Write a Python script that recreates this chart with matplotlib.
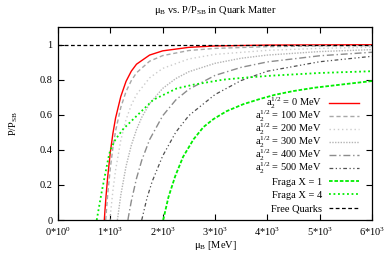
import matplotlib
matplotlib.use("Agg")
import matplotlib.pyplot as plt
from matplotlib.lines import Line2D

plt.rcParams['font.family'] = ['Liberation Serif', 'DejaVu Serif']
plt.rcParams['mathtext.fontset'] = 'custom'
plt.rcParams['mathtext.rm'] = 'Liberation Serif'
plt.rcParams['mathtext.it'] = 'Liberation Serif:italic'
plt.rcParams['font.size'] = 7.5

# mu_B in MeV, P/P_SB values
mu_red = [885, 900, 920, 950, 1000, 1050, 1100, 1200, 1300, 1400, 1500, 1750, 2000, 2500, 3000, 4000, 5000, 6000]
y_red = [0.0, 0.065, 0.144, 0.247, 0.387, 0.495, 0.581, 0.704, 0.790, 0.848, 0.888, 0.940, 0.964, 0.984, 0.992, 0.997, 0.998, 0.999]

mu_a100 = [911, 950, 1000, 1050, 1100, 1200, 1300, 1400, 1500, 1750, 2000, 2500, 3000, 4000, 5000, 6000]
y_a100 = [0.0, 0.147, 0.297, 0.414, 0.507, 0.642, 0.732, 0.794, 0.839, 0.905, 0.937, 0.966, 0.978, 0.988, 0.992, 0.994]

mu_a200 = [992, 1000, 1050, 1100, 1200, 1300, 1400, 1500, 1750, 2000, 2500, 3000, 4000, 5000, 6000]
y_a200 = [0.0, 0.027, 0.169, 0.284, 0.454, 0.572, 0.655, 0.715, 0.810, 0.864, 0.918, 0.944, 0.967, 0.978, 0.985]

mu_a300 = [1135, 1200, 1300, 1400, 1500, 1600, 1750, 2000, 2250, 2500, 3000, 3500, 4000, 5000, 6000]
y_a300 = [0.0, 0.142, 0.306, 0.425, 0.515, 0.585, 0.663, 0.750, 0.806, 0.845, 0.893, 0.922, 0.940, 0.960, 0.971]

mu_a400 = [1336, 1350, 1400, 1500, 1600, 1750, 2000, 2250, 2500, 3000, 3500, 4000, 5000, 6000]
y_a400 = [0.0, 0.025, 0.106, 0.237, 0.340, 0.458, 0.594, 0.684, 0.745, 0.824, 0.870, 0.901, 0.936, 0.956]

mu_a500 = [1600, 1700, 1800, 2000, 2250, 2500, 3000, 3500, 4000, 5000, 6000]
y_a500 = [0.0, 0.125, 0.220, 0.365, 0.500, 0.595, 0.715, 0.795, 0.848, 0.902, 0.933]

mu_x1 = [2010, 2110, 2240, 2390, 2590, 2780, 2970, 3220, 3540, 3860, 4150, 4500, 4900, 5500, 6000]
y_x1 = [0.0, 0.13, 0.25, 0.36, 0.46, 0.53, 0.575, 0.62, 0.66, 0.69, 0.714, 0.735, 0.754, 0.775, 0.792]

mu_x4 = [740, 835, 960, 1000, 1100, 1250, 1440, 1820, 2270, 2600, 3160, 3600, 4100, 5000, 6000]
y_x4 = [0.0, 0.16, 0.35, 0.40, 0.46, 0.52, 0.575, 0.685, 0.75, 0.772, 0.80, 0.812, 0.823, 0.838, 0.848]

mu_free = [0, 6000]
y_free = [1.0, 1.0]

series_mu = [mu_red, mu_a100, mu_a200, mu_a300, mu_a400, mu_a500, mu_x1, mu_x4, mu_free]
series_y = [y_red, y_a100, y_a200, y_a300, y_a400, y_a500, y_x1, y_x4, y_free]
labels = [r'$\mathrm{a}_2^{1/2}$ = 0 MeV', r'$\mathrm{a}_2^{1/2}$ = 100 MeV', r'$\mathrm{a}_2^{1/2}$ = 200 MeV',
          r'$\mathrm{a}_2^{1/2}$ = 300 MeV', r'$\mathrm{a}_2^{1/2}$ = 400 MeV', r'$\mathrm{a}_2^{1/2}$ = 500 MeV',
          'Fraga X = 1', 'Fraga X = 4', 'Free Quarks']
styles = [
    dict(color='#ff0000', lw=1.0, ls='-'),
    dict(color='#a8a8a8', lw=1.0, ls=(0, (3, 2))),
    dict(color='#cccccc', lw=1.0, ls=(0, (1, 2))),
    dict(color='#b4b4b4', lw=1.0, ls=(0, (1, 1))),
    dict(color='#8c8c8c', lw=1.0, ls=(0, (5, 2, 1, 2))),
    dict(color='#505050', lw=0.9, ls=(0, (3, 2, 1, 2, 1, 2))),
    dict(color='#00ee00', lw=1.3, ls=(0, (2, 1))),
    dict(color='#00ee00', lw=1.3, ls=(0, (1, 1.5))),
    dict(color='black', lw=0.9, ls=(0, (3, 2))),
]

xticks = [0, 1000, 2000, 3000, 4000, 5000, 6000]
xticklabels = [r'0*10$^0$', r'1*10$^3$', r'2*10$^3$', r'3*10$^3$', r'4*10$^3$', r'5*10$^3$', r'6*10$^3$']
yticks = [0, 0.2, 0.4, 0.6, 0.8, 1]
yticklabels = ['0', '0.2', '0.4', '0.6', '0.8', '1']

W, H = 385, 254
fig = plt.figure(figsize=(W / 100, H / 100), dpi=100)
ax = fig.add_axes([58 / W, 1 - 220 / H, 314 / W, 193 / H])

for mu, y, st in zip(series_mu, series_y, styles):
    ax.plot(mu, y, **st)

ax.set_xlim(0, 6000)
ax.set_ylim(0, 1.1)
ax.set_xticks(xticks)
ax.set_xticklabels(xticklabels)
ax.set_yticks(yticks)
ax.set_yticklabels(yticklabels)
ax.tick_params(direction='in', top=True, right=True, length=4, width=0.8, pad=4)
for s in ax.spines.values():
    s.set_linewidth(0.9)

ax.set_title('μ$_\\mathrm{B}$ vs. P/P$_\\mathrm{SB}$ in Quark Matter', fontsize=7.5, pad=10)
ax.set_xlabel('μ$_\\mathrm{B}$ [MeV]', labelpad=1)
ax.set_ylabel('P/P$_\\mathrm{SB}$', labelpad=14)

# key, drawn by hand to get gnuplot's row spacing
for i, (lab, st) in enumerate(zip(labels, styles)):
    ypx = 102.7 + 13.1 * i
    fy = 1 - ypx / H
    fig.add_artist(Line2D([329 / W, 359 / W], [fy, fy], **st))
    fig.text(322 / W, 1 - (ypx + 3.7) / H, lab, ha='right', va='baseline', fontsize=7.5)

fig.savefig('out.png', dpi=100)
